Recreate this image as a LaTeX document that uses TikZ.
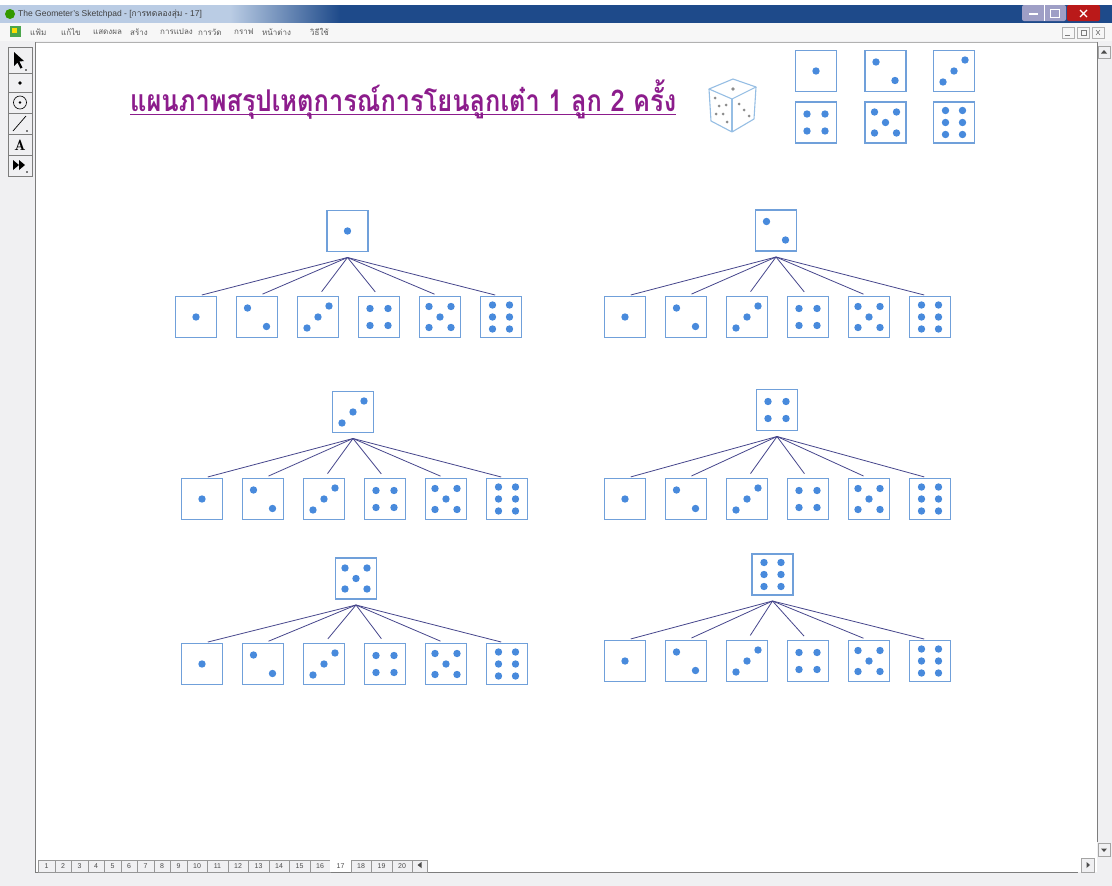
\documentclass[tikz,border=0pt]{standalone}
\usepackage{fontspec}
\setmainfont{Liberation Sans}
\newfontfamily\thaifont[Script=Thai]{Loma}
\usetikzlibrary{calc}

\definecolor{dieblue}{RGB}{112,160,218}
\definecolor{pipblue}{RGB}{72,138,220}
\definecolor{branchcol}{RGB}{70,70,140}
\definecolor{titlepurple}{RGB}{140,28,140}
\definecolor{tbdark}{RGB}{30,74,138}
\definecolor{tblight}{RGB}{186,204,228}
\definecolor{chrome}{RGB}{240,240,242}
\definecolor{frameline}{RGB}{125,125,125}
\definecolor{cubeline}{RGB}{150,190,228}

% pips of a die face, drawn relative to the face centre
\newcommand\diepips[1]{%
  \ifcase#1\or
    \def\pipset{0/0}\or
    \def\pipset{-9.5/-9, 9.5/9.5}\or
    \def\pipset{-11/11, 0/0, 11/-11}\or
    \def\pipset{-9/-8.5, 9/-8.5, -9/8.5, 9/8.5}\or
    \def\pipset{-11/-10.5, 11/-10.5, 0/0, -11/10.5, 11/10.5}\or
    \def\pipset{-8.5/-12, 8.5/-12, -8.5/0, 8.5/0, -8.5/12, 8.5/12}\fi
  \foreach \a/\b in \pipset
    {\fill[pipblue] ([shift={(\a,\b)}]path picture bounding box.center) circle (3.7);}}

\tikzset{
  diebox/.style={draw=dieblue, line width=1.2pt, fill=white,
    minimum size=41pt, inner sep=0pt, outer sep=0pt},
  face/.style={diebox, path picture={\diepips{#1}}},
  branch/.style={draw=branchcol, line width=0.8pt, shorten >=6pt},
  tabbox/.style={draw=frameline!80, fill=chrome, line width=0.5pt,
    inner sep=0pt, font=\fontsize{7}{7}\selectfont, text=black!70},
  toolbtn/.style={draw=frameline, fill=chrome, line width=0.5pt},
  menutext/.style={font=\thaifont\fontsize{8}{8}\selectfont, text=black!65, inner sep=0pt},
  scrollbtn/.style={draw=frameline!70, fill=chrome, line width=0.5pt}
}

% one root face with its six follow-up faces
% #1 prefix, #2 root face, #3 root x, #4 root y, #5 first child x, #6 child y
\newcommand\facetree[6]{%
  \node[face=#2] (#1r) at (#3,#4) {};
  \coordinate (#1j) at (#3,#4+26.5);
  \foreach \k in {1,...,6}{%
    \node[face=\k] (#1c\k) at ({#5+61*(\k-1)},#6) {};
    \draw[branch] (#1j) -- (#1c\k.north);
  }}

\begin{document}
\begin{tikzpicture}[x=1pt,y=-1pt]
\useasboundingbox (0,0) rectangle (1112,886);

% ---------- window frame ----------
\fill[chrome] (0,0) rectangle (1112,886);
\fill[white] (0,0) rectangle (1112,5);
\fill[tblight] (0,5) rectangle (230,23);
\shade[left color=tblight, right color=tbdark] (230,5) rectangle (340,23);
\fill[tbdark] (340,5) rectangle (1112,23);
\fill[black!50!green!80!yellow] (10,14) circle (5);
\node[anchor=west, inner sep=0pt, font=\fontsize{8.5}{8.5}\selectfont, text=black!75] (wintitle)
  at (18,14) {The Geometer's Sketchpad - [{\thaifont การทดลองสุ่ม} - 17]};
% caption buttons
\fill[rounded corners=2pt, fill=blue!25!gray!60] (1022,5) rectangle (1066,21);
\draw[white, line width=0.5pt] (1044,5) -- (1044,21);
\draw[white, line width=1.2pt] (1029,14) -- (1038,14);
\draw[white, line width=0.8pt] (1050,9) rectangle (1059,17);
\fill[rounded corners=2pt, red!70!black!90] (1067,5) rectangle (1100,21);
\draw[white, line width=1.2pt] (1080,10) -- (1087,17) (1080,17) -- (1087,10);

% menu bar
\fill[black!3] (0,23) rectangle (1112,41);
\fill[green!50!black!70] (10,26) rectangle (21,37);
\fill[yellow!80!orange] (12,28) rectangle (17,33);
\foreach \t/\x [count=\i] in {แฟ้ม/30, แก้ไข/61, แสดงผล/93, สร้าง/130, การแปลง/160, การวัด/198, กราฟ/234, หน้าต่าง/262, วิธีใช้/310}
  \node[menutext, anchor=west] (menu\i) at (\x,32) {\t};
\foreach \x/\g in {1068/\_, 1083/\char"25AB, 1098/x}
  \draw[frameline!60, line width=0.4pt] (\x-6,27) rectangle (\x+6,38);
\draw[frameline, line width=0.8pt] (1065,35) -- (1070,35);
\draw[frameline, line width=0.6pt] (1081,30) rectangle (1086,35);
\draw[frameline, line width=0.6pt] (1096,30) -- (1100,35) (1096,35) -- (1100,30);

% drawing area
\fill[white] (36,42) rectangle (1097,872);
\draw[frameline, line width=0.8pt] (35.5,42) -- (35.5,872) -- (1078,872);
\draw[frameline!60, line width=0.5pt] (35.5,42) -- (1097,42);
\draw[frameline, line width=0.8pt] (1097.5,42) -- (1097.5,842);

% scroll buttons
\node[scrollbtn, minimum width=12pt, minimum height=12pt, inner sep=0pt] (sbup) at (1104,52) {};
\fill[black!70] (1101,53.5) -- (1107,53.5) -- (1104,50) -- cycle;
\node[scrollbtn, minimum width=12pt, minimum height=13pt, inner sep=0pt] (sbdown) at (1104,850) {};
\fill[black!70] (1101,848.5) -- (1107,848.5) -- (1104,852) -- cycle;
\node[scrollbtn, minimum width=13pt, minimum height=14pt, inner sep=0pt] (sbright) at (1088,865) {};
\fill[black!70] (1086.5,862) -- (1086.5,868) -- (1090,865) -- cycle;

% toolbox
\foreach \i/\ya/\yb in {1/47/73, 2/73/92, 3/92/113, 4/113/134, 5/134/155, 6/155/176}
  \draw[toolbtn] (8,\ya) rectangle (32,\yb) coordinate (tool\i);
\fill[black] (14,52) -- (14,66) -- (17.5,62.5) -- (20.5,68.5) -- (22.5,67.5) -- (19.5,61.5) -- (24,61) -- cycle;
\fill[black] (26,70) circle (0.9);
\fill[black] (20,83) circle (1.8);
\draw[black, line width=0.6pt] (20,102.5) circle (6.5);
\fill[black] (20,102.5) circle (1.4);
\draw[black, line width=0.7pt] (13,131) -- (26,116);
\fill[black] (27,131) circle (0.9);
\node[inner sep=0pt, font=\fontfamily{lmr}\bfseries\fontsize{15}{15}\selectfont] (toolA) at (20,145) {A};
\fill[black] (13,160) -- (13,170) -- (19,165) -- cycle;
\fill[black] (19,160) -- (19,170) -- (25,165) -- cycle;
\fill[black] (27,172) circle (0.9);

% page tabs
\foreach \n in {1,...,20}{%
  \pgfmathsetmacro\tx{\n<10 ? 38+16.5*(\n-1) : 186.5+20.5*(\n-10)}%
  \pgfmathsetmacro\tw{\n<10 ? 16.5 : 20.5}%
  \ifnum\n=17
    \node[tabbox, draw=none, fill=white, anchor=north west, minimum width=\tw pt, minimum height=12pt]
      (tab\n) at (\tx,859.5) {\n};
  \else
    \node[tabbox, anchor=north west, minimum width=\tw pt, minimum height=12pt]
      (tab\n) at (\tx,859.5) {\n};
  \fi}
\node[tabbox, anchor=north west, minimum width=15pt, minimum height=12pt] (tabarrow) at (412,859.5) {};
\fill[black!70] (421.5,862) -- (421.5,868) -- (417.5,865) -- cycle;

% ---------- heading ----------
\node[anchor=base west, inner sep=0pt, text=titlepurple] (title) at (130,111)
  {\resizebox{546pt}{\height}{\thaifont\bfseries\fontsize{30}{30}\selectfont
   แผนภาพสรุปเหตุการณ์การโยนลูกเต๋า 1 ลูก 2 ครั้ง}};
\draw[titlepurple, line width=1.8pt] (130,114.5) -- (676,114.5);

% small cube icon
\begin{scope}[cubeline, line width=1.1pt, line join=round]
  \draw (709,89) -- (733,79) -- (756,87) -- (732,99) -- cycle;
  \draw (709,89) -- (711,121) -- (732,132) -- (754,119) -- (756,87);
  \draw (732,99) -- (732,132);
  \fill[black!45] (733,89) circle (1.8);
  \foreach \p in {(715,98),(719,106),(723,114),(727,122),(716,114),(726,105)}
    \fill[black!45] \p circle (1.5);
  \foreach \p in {(739,104),(744,110),(749,116)}
    \fill[black!45] \p circle (1.5);
\end{scope}

% the six faces of a die
\foreach \n/\x/\y in {1/816/71, 2/885.5/71, 3/954/71, 4/816/122.5, 5/885.5/122.5, 6/954/122.5}
  \node[face=\n] (key\n) at (\x,\y) {};

% ---------- outcome trees ----------
\facetree{a}{1}{347.5}{231}{196}{317}
\facetree{b}{2}{776}{230.5}{625}{317}
\facetree{c}{3}{353}{412}{202}{499}
\facetree{d}{4}{777}{410}{625}{499}
\facetree{e}{5}{356}{578.5}{202}{664}
\facetree{f}{6}{772.5}{574.5}{625}{661}

\end{tikzpicture}
\end{document}
